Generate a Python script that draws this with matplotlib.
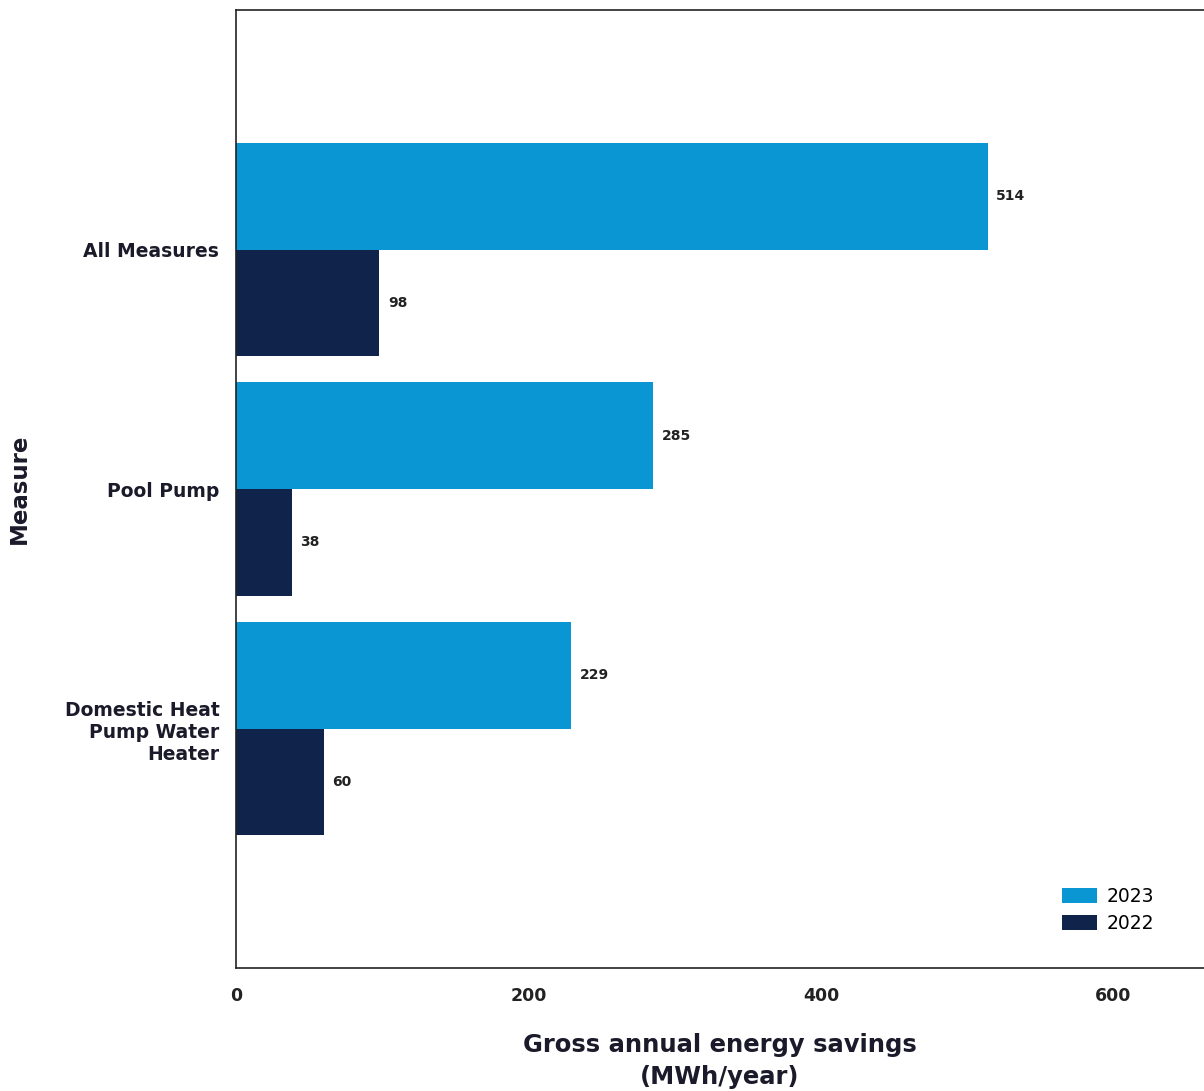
import numpy as np
import matplotlib
matplotlib.use("Agg")
from matplotlib import pyplot as plt

# data
measures = ["All Measures", "Pool Pump", "Domestic Heat\nPump Water\nHeater"]
savings_2023 = [514, 285, 229]
savings_2022 = [98, 38, 60]
xticks = [0, 200, 400, 600]

blue = "#0a96d2"
navy = "#10234a"

fig = plt.figure(figsize=(12.04, 10.91), dpi=100)
ax = fig.add_axes([0.196, 0.1127, 0.804, 0.8781])

y = np.arange(len(measures))
h = 0.446
b1 = ax.barh(y - h/2, savings_2023, height=h, color=blue, label="2023")
b2 = ax.barh(y + h/2, savings_2022, height=h, color=navy, label="2022")

for bars in (b1, b2):
    for r in bars:
        w = r.get_width()
        ax.text(w + 6, r.get_y() + r.get_height()/2, str(int(w)),
                va="center", ha="left", fontsize=10, fontweight="bold", color="#222222")

ax.set_ylim(3, -1)
ax.set_xlim(0, 662)
ax.set_yticks(y)
ax.set_yticklabels(measures, fontsize=13.5, fontweight="bold", color="#1a1a2a",
                   linespacing=1.2)
ax.set_xticks(xticks)
ax.set_xticklabels([str(t) for t in xticks], fontsize=12.5, fontweight="bold", color="#222222")
ax.tick_params(axis="both", length=0)
ax.tick_params(axis="x", pad=14)
ax.tick_params(axis="y", pad=12)

for s in ["left", "bottom", "top"]:
    ax.spines[s].set_linewidth(1.2)
    ax.spines[s].set_color("#222222")
ax.spines["right"].set_visible(False)

ax.set_xlabel("Gross annual energy savings\n(MWh/year)", fontsize=17.5, fontweight="bold",
              color="#1a1a2a", labelpad=20, linespacing=1.4)
ax.set_ylabel("Measure", fontsize=16.5, fontweight="bold", color="#1a1a2a")
ax.yaxis.set_label_coords(-0.212, 0.5)

ax.legend(loc="lower right", frameon=False, fontsize=13.5, handlelength=1.9,
          handleheight=0.85, labelspacing=0.45, handletextpad=0.5,
          bbox_to_anchor=(0.966, 0.019))

fig.savefig("out.png", dpi=100)
